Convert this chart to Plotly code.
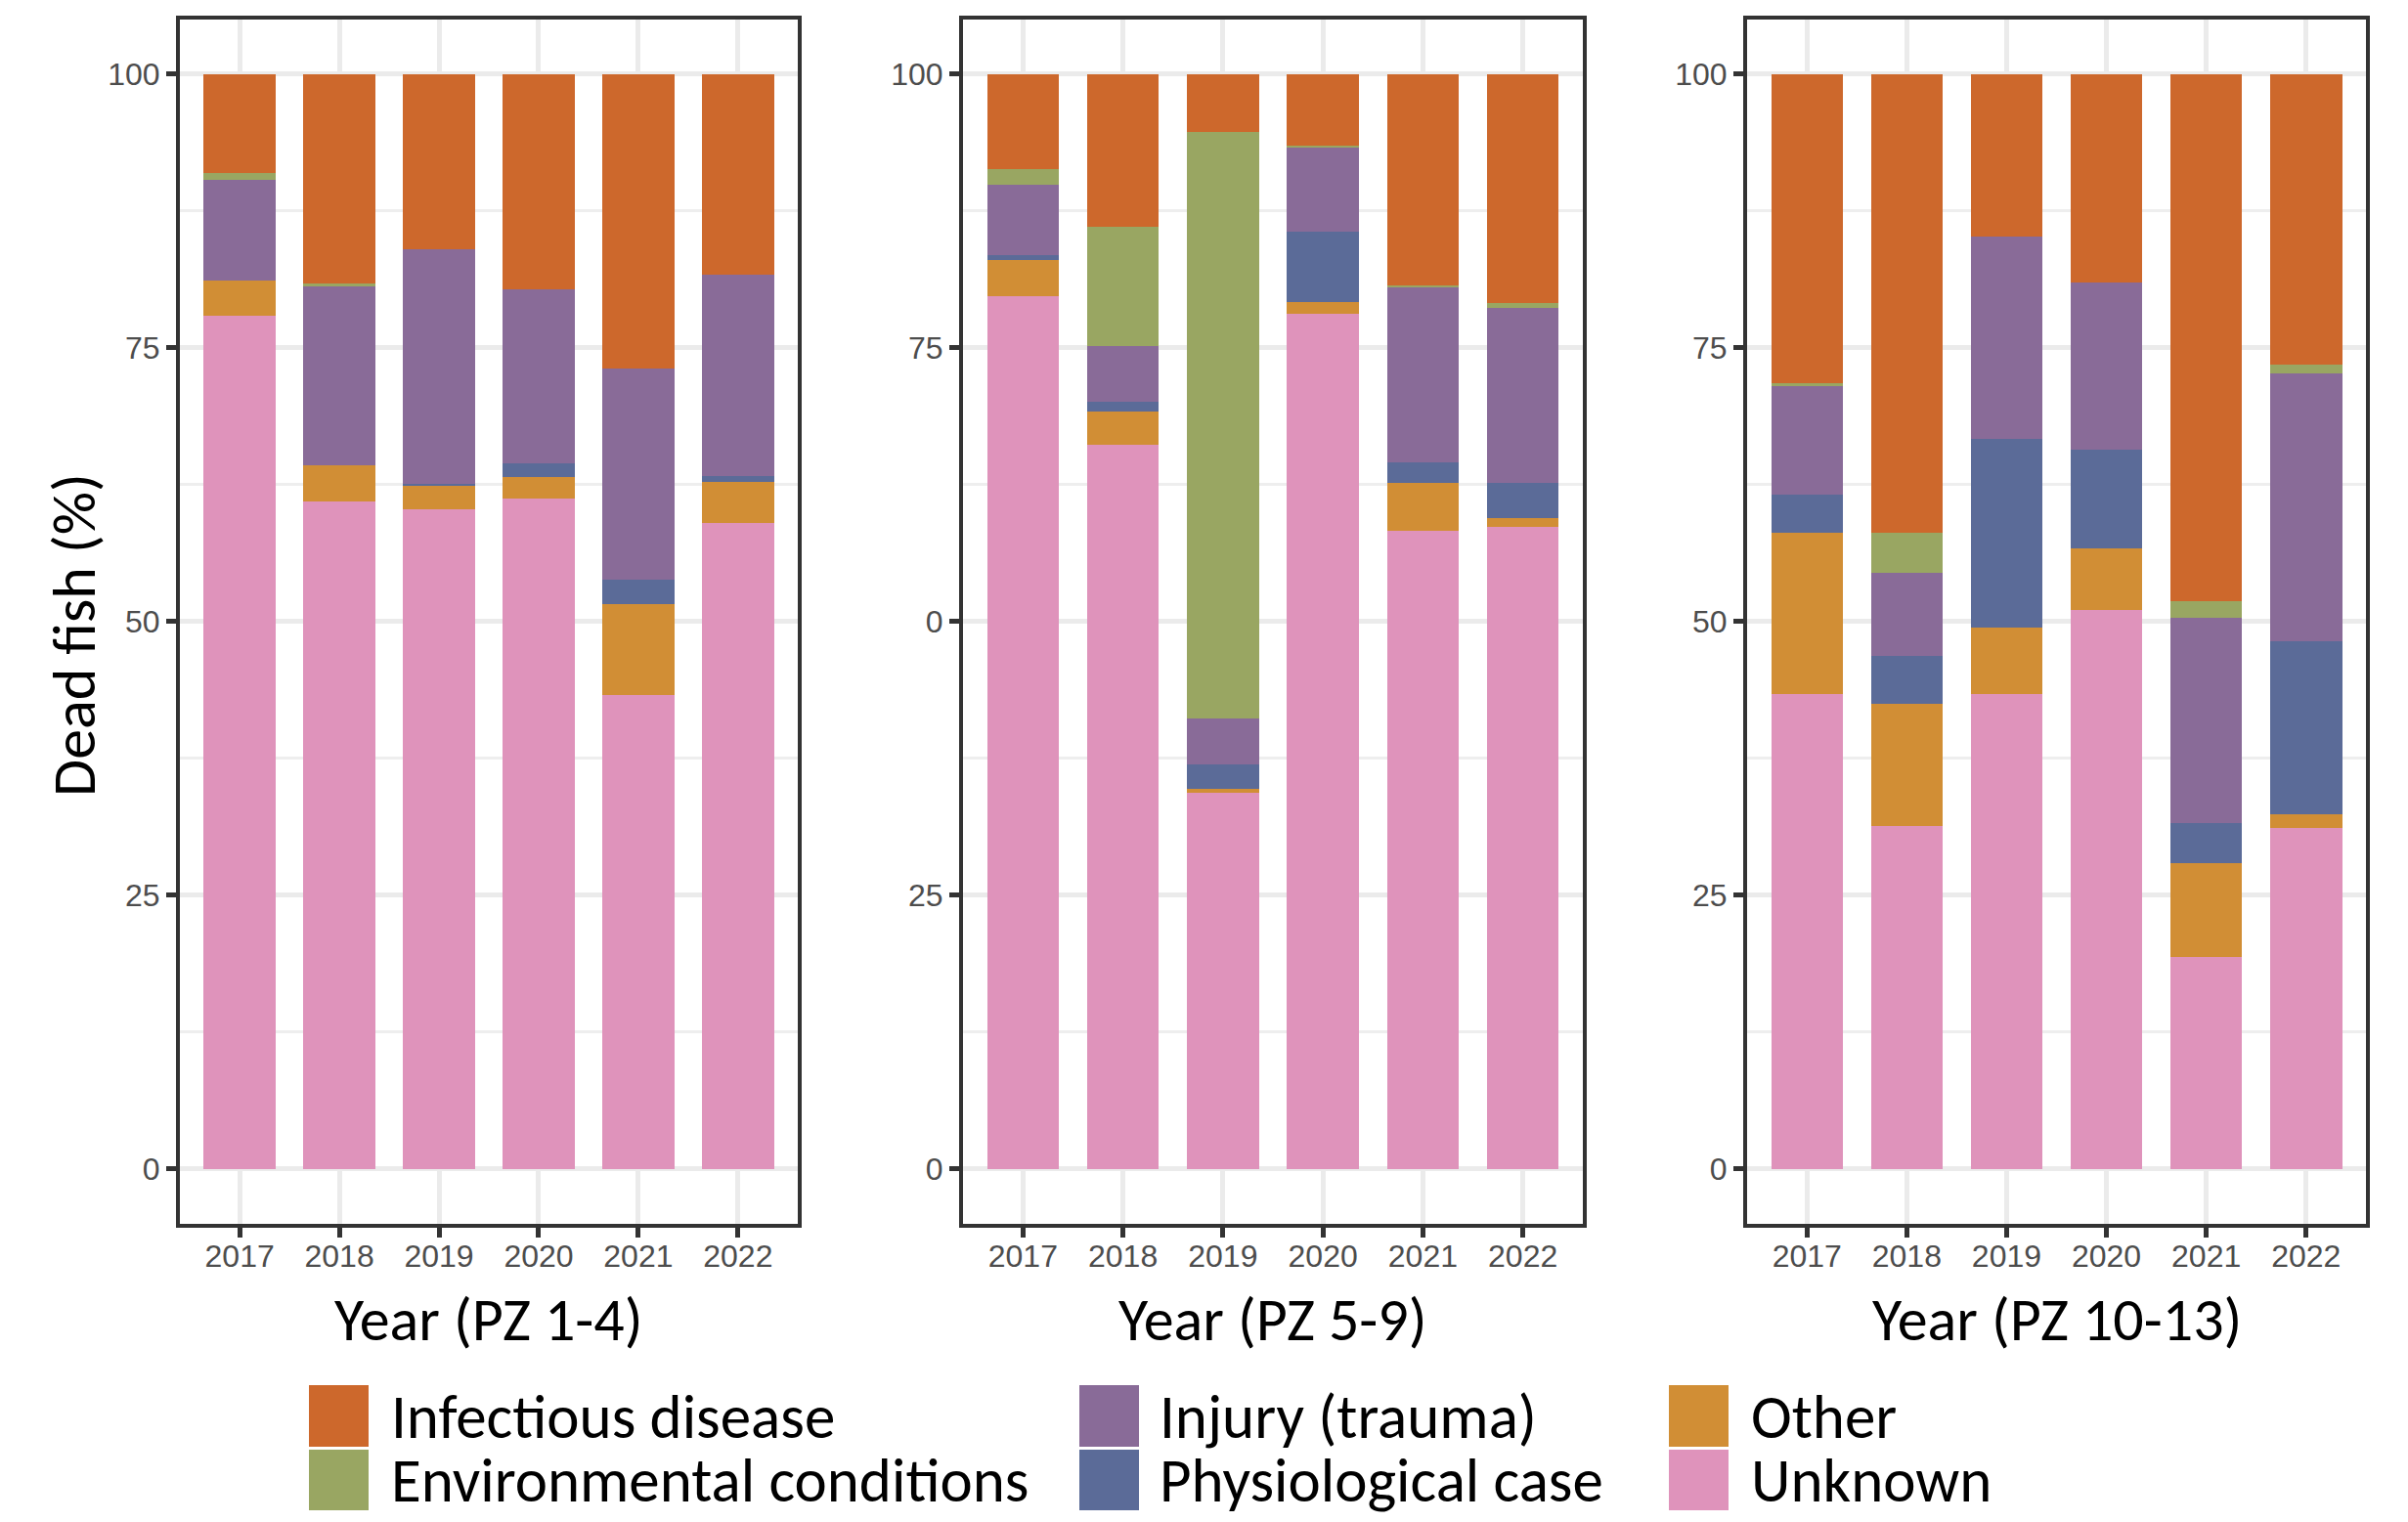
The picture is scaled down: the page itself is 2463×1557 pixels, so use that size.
import plotly.graph_objects as go

years = ["2017", "2018", "2019", "2020", "2021", "2022"]
panels = ["PZ 1-4", "PZ 5-9", "PZ 10-13"]
causes = ["Unknown", "Other", "Physiological case", "Injury (trauma)",
          "Environmental conditions", "Infectious disease"]
colors = {"Infectious disease": "#CD682C", "Environmental conditions": "#99A662",
          "Injury (trauma)": "#896B98", "Physiological case": "#5B6B98",
          "Other": "#D18E35", "Unknown": "#DF93BB"}

# PZ 1-4
pz1_unknown = [78.0, 61.0, 60.3, 61.3, 43.3, 59.0]
pz1_other = [3.2, 3.3, 2.2, 1.9, 8.3, 3.8]
pz1_physio = [0.0, 0.0, 0.1, 1.3, 2.3, 0.5]
pz1_injury = [9.2, 16.3, 21.4, 15.9, 19.2, 18.4]
pz1_env = [0.6, 0.3, 0.0, 0.0, 0.0, 0.0]
pz1_infect = [9.0, 19.1, 16.0, 19.6, 26.9, 18.3]
# PZ 5-9
pz2_unknown = [79.7, 66.2, 34.4, 78.1, 58.3, 58.7]
pz2_other = [3.3, 3.0, 0.4, 1.1, 4.4, 0.8]
pz2_physio = [0.5, 0.9, 2.2, 6.4, 1.9, 3.2]
pz2_injury = [6.4, 5.1, 4.2, 7.7, 15.9, 16.0]
pz2_env = [1.4, 10.9, 53.5, 0.2, 0.2, 0.4]
pz2_infect = [8.7, 13.9, 5.3, 6.5, 19.3, 20.9]
# PZ 10-13
pz3_unknown = [43.4, 31.4, 43.4, 51.1, 19.4, 31.2]
pz3_other = [14.7, 11.1, 6.1, 5.6, 8.6, 1.2]
pz3_physio = [3.5, 4.4, 17.2, 9.0, 3.6, 15.8]
pz3_injury = [9.9, 7.6, 18.5, 15.3, 18.8, 24.5]
pz3_env = [0.3, 3.6, 0.0, 0.0, 1.5, 0.8]
pz3_infect = [28.2, 41.9, 14.8, 19.0, 48.1, 26.5]

y_tickvals = [0, 25, 50, 75, 100]
y_ticktext = [["0", "25", "50", "75", "100"],
              ["0", "25", "0", "75", "100"],
              ["0", "25", "50", "75", "100"]]
legend_order = [["Infectious disease", "Environmental conditions"],
                ["Injury (trauma)", "Physiological case"],
                ["Other", "Unknown"]]

data = [
    [pz1_unknown, pz1_other, pz1_physio, pz1_injury, pz1_env, pz1_infect],
    [pz2_unknown, pz2_other, pz2_physio, pz2_injury, pz2_env, pz2_infect],
    [pz3_unknown, pz3_other, pz3_physio, pz3_injury, pz3_env, pz3_infect],
]

OFF = 8  # page body margin
W, H = 2463 - OFF, 1557 - OFF
TXT = "Carlito, Calibri, Lato, sans-serif"
TICK = "Liberation Sans, Arial, sans-serif"


def px(x):
    return (x - OFF) / W


def py(y):
    return 1 - (y - OFF) / H


fig = go.Figure()
for p, series in enumerate(data):
    xa = "x" if p == 0 else f"x{p+1}"
    ya = "y" if p == 0 else f"y{p+1}"
    for cause, vals in zip(causes, series):
        fig.add_trace(go.Bar(x=years, y=vals, name=cause, xaxis=xa, yaxis=ya,
                             width=0.72, marker=dict(color=colors[cause], line=dict(width=0)),
                             showlegend=False))

xdoms = [(184, 816), (985, 1619), (1787, 2420)]
ydom = [py(1252), py(19.6)]
layout = dict(width=W, height=H, margin=dict(l=0, r=0, t=0, b=0),
              paper_bgcolor="white", plot_bgcolor="white", barmode="stack",
              bargap=0, showlegend=False)
for p in range(3):
    sx = "" if p == 0 else str(p + 1)
    layout[f"xaxis{sx}"] = dict(
        domain=[px(xdoms[p][0]), px(xdoms[p][1])], anchor=f"y{sx}",
        type="category", categoryorder="array", categoryarray=years,
        range=[-0.6, 5.6], showgrid=True, gridcolor="#EBEBEB", gridwidth=5,
        showline=True, linecolor="#333333", linewidth=4, mirror=True,
        ticks="outside", ticklen=10, tickwidth=5, tickcolor="#333333",
        ticklabelstandoff=-8,
        tickfont=dict(family=TICK, size=32, color="#4D4D4D"), zeroline=False)
    layout[f"yaxis{sx}"] = dict(
        domain=ydom, anchor=f"x{sx}", range=[-5, 105],
        tickmode="array", tickvals=y_tickvals, ticktext=y_ticktext[p],
        showgrid=True, gridcolor="#EBEBEB", gridwidth=5,
        minor=dict(tickvals=[12.5, 37.5, 62.5, 87.5], showgrid=True,
                   gridcolor="#EEEEEE", gridwidth=2.5, ticks=""),
        showline=True, linecolor="#333333", linewidth=4, mirror=True,
        ticks="outside", ticklen=10, tickwidth=5, tickcolor="#333333",
        tickfont=dict(family=TICK, size=32, color="#4D4D4D"), zeroline=False)
fig.update_layout(**layout)

annotations = []
for p in range(3):
    cx = px((xdoms[p][0] + xdoms[p][1]) / 2)
    annotations.append(dict(text=f"Year ({panels[p]})", x=cx, y=py(1350),
                            xref="paper", yref="paper", xanchor="center", yanchor="middle",
                            showarrow=False, font=dict(family=TXT, size=62, color="black")))
annotations.append(dict(text="Dead fish (%)", x=px(76), y=py(650), xref="paper", yref="paper",
                        xanchor="center", yanchor="middle", textangle=-90, showarrow=False,
                        font=dict(family=TXT, size=62, color="black")))

shapes = []
sw_x = [316, 1104, 1707]
txt_x = [398, 1184, 1789]
rows_y = [(1417, 1480), (1483, 1545)]
for c in range(3):
    for r in range(2):
        name = legend_order[c][r]
        y0, y1 = rows_y[r]
        shapes.append(dict(type="rect", xref="paper", yref="paper",
                           x0=px(sw_x[c]), x1=px(sw_x[c] + 61),
                           y0=py(y1), y1=py(y0),
                           fillcolor=colors[name], line=dict(width=0)))
        annotations.append(dict(text=name, x=px(txt_x[c]), y=py((y0 + y1) / 2),
                                xref="paper", yref="paper", xanchor="left", yanchor="middle",
                                height=66, valign="middle",
                                showarrow=False, font=dict(family=TXT, size=63, color="black")))
fig.update_layout(annotations=annotations, shapes=shapes)
fig.write_html("out.html")
